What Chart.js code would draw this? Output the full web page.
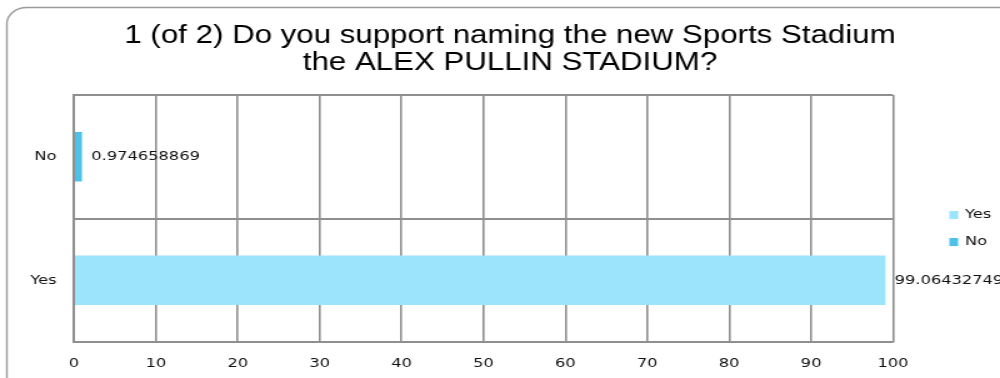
<!DOCTYPE html>
<html>
<head>
<meta charset="utf-8">
<script src="https://cdn.jsdelivr.net/npm/chart.js@4.4.1/dist/chart.umd.min.js"></script>
<style>
  html, body { margin: 0; padding: 0; background: #ffffff; overflow: hidden; }
  #wrap { width: 800px; height: 378px; transform: scaleX(1.25); transform-origin: 0 0; position: absolute; left: 0; top: 0; }
</style>
</head>
<body>
<div id="wrap"><canvas id="c"></canvas></div>
<script>
const categories = ['No', 'Yes'];
const seriesNames = ['Yes', 'No'];
const yesValues = [null, 99.06432749];
const noValues = [0.974658869, null];
const xMin = 0, xMax = 100, xStep = 10;
const titleLines = ['1 (of 2) Do you support naming the new Sports Stadium', 'the ALEX PULLIN STADIUM?'];

const YES_COLOR = '#9BE4FC';
const NO_COLOR = '#4EC1E9';
const GRID = '#8f8f8f';
const TEXT = '#111111';
const LABEL_FONT = '13px "DejaVu Sans", sans-serif';

const decor = {
  id: 'decor',
  beforeDraw(chart) {
    const ctx = chart.ctx;
    ctx.save();
    ctx.fillStyle = '#ffffff';
    ctx.fillRect(0, 0, chart.width, chart.height);
    ctx.strokeStyle = '#9a9a9a';
    ctx.lineWidth = 1.4;
    ctx.beginPath();
    ctx.roundRect(5.5, 7.5, 900, 420, 16);
    ctx.stroke();
    ctx.restore();
  },
  afterDraw(chart) {
    const ctx = chart.ctx;
    ctx.save();
    // title
    ctx.fillStyle = '#000000';
    ctx.font = '25px "Liberation Sans", Arial, sans-serif';
    ctx.textAlign = 'center';
    ctx.textBaseline = 'alphabetic';
    ctx.fillText(titleLines[0], 408, 43);
    ctx.fillText(titleLines[1], 408, 70);
    // data labels
    ctx.font = LABEL_FONT;
    ctx.fillStyle = TEXT;
    ctx.textAlign = 'left';
    ctx.textBaseline = 'middle';
    chart.data.datasets.forEach((ds, di) => {
      const meta = chart.getDatasetMeta(di);
      meta.data.forEach((el, i) => {
        const v = ds.data[i];
        if (v === null || v === undefined) return;
        ctx.fillText(String(v), el.x + 7.5, el.y);
      });
    });
    // legend
    const items = [
      { label: seriesNames[0], color: YES_COLOR, y: 215 },
      { label: seriesNames[1], color: NO_COLOR, y: 242 }
    ];
    items.forEach(it => {
      ctx.fillStyle = it.color;
      ctx.fillRect(759.5, it.y - 4, 7, 8);
      ctx.fillStyle = TEXT;
      ctx.fillText(it.label, 772, it.y);
    });
    ctx.restore();
  }
};

new Chart(document.getElementById('c'), {
  type: 'bar',
  data: {
    labels: categories,
    datasets: [
      { label: seriesNames[0], data: yesValues, backgroundColor: YES_COLOR, barPercentage: 0.4, categoryPercentage: 1.0 },
      { label: seriesNames[1], data: noValues, backgroundColor: NO_COLOR, barPercentage: 0.4, categoryPercentage: 1.0 }
    ]
  },
  options: {
    indexAxis: 'y',
    responsive: true,
    maintainAspectRatio: false,
    animation: false,
    layout: { padding: { top: 95, right: 85.6, bottom: 0, left: 0 } },
    plugins: { legend: { display: false }, title: { display: false }, tooltip: { enabled: false } },
    scales: {
      x: {
        stacked: true,
        min: xMin, max: xMax,
        ticks: { stepSize: xStep, color: TEXT, font: { family: '"DejaVu Sans", sans-serif', size: 13 }, padding: 14, maxRotation: 0 },
        grid: { color: GRID, lineWidth: 1.6, drawTicks: false },
        border: { color: GRID, width: 1.6 },
        afterFit(s) { s.height = 36; }
      },
      y: {
        stacked: true,
        ticks: { color: TEXT, font: { family: '"DejaVu Sans", sans-serif', size: 13 }, padding: 14 },
        grid: { color: GRID, lineWidth: 2, drawTicks: false, offset: true },
        border: { color: GRID, width: 2 },
        afterFit(s) { s.width = 59.2; }
      }
    }
  },
  plugins: [decor]
});
</script>
</body>
</html>
